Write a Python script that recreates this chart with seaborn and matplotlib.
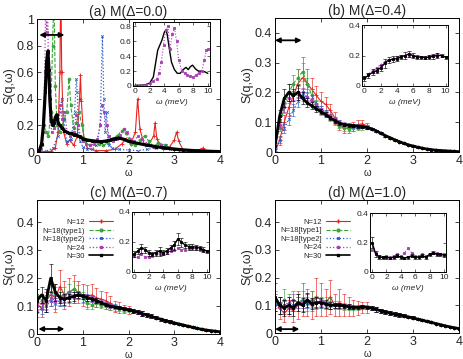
import numpy as np
import matplotlib
matplotlib.use("Agg")
import matplotlib.pyplot as plt
from matplotlib.lines import Line2D
import seaborn as sns

sns.set_theme(style="ticks")
plt.rcParams['font.family'] = ['Liberation Sans', 'DejaVu Sans']

# ---------------- data ----------------
# common frequency grid for panels (b)-(d)
omega = np.round(np.arange(0, 4.01, 0.1), 1)
ins_w = np.round(np.arange(0, 10.01, 0.5), 1)

# panel (a): Delta = 0.0, sharp peaks, own grids
a_n12_w = [0, 0.3, 0.4, 0.46, 0.5, 0.52, 0.54, 0.58, 0.65, 0.72, 0.8, 0.88, 0.93, 0.95, 0.97, 1.02, 1.1, 1.3, 1.5, 1.7,
           1.85, 1.95, 2.05, 2.15, 2.2, 2.25, 2.35, 2.45, 2.55, 2.58, 2.62, 2.75, 2.9, 3.0, 3.05, 3.1, 3.2, 3.5, 3.62, 3.7, 4.0]
a_n12 = [0, 0.005, 0.03, 0.15, 0.6, 1.3, 0.6, 0.15, 0.06, 0.09, 0.05, 0.12, 0.4, 0.58, 0.38, 0.1, 0.03, 0.01, 0.01, 0.02,
         0.06, 0.1, 0.06, 0.15, 0.4, 0.17, 0.05, 0.06, 0.12, 0.22, 0.1, 0.02, 0.04, 0.09, 0.15, 0.08, 0.01, 0.01, 0.03, 0.005, 0]
a_n18a_w = [0, 0.1, 0.15, 0.2, 0.25, 0.3, 0.34, 0.37, 0.4, 0.44, 0.5, 0.55, 0.6, 0.65, 0.7, 0.74, 0.8, 0.86, 0.92, 0.98,
            1.05, 1.15, 1.25, 1.35, 1.45, 1.55, 1.65, 1.75, 1.85, 1.9, 1.95, 2.05, 2.15, 2.25, 2.35, 2.45, 2.55, 2.65,
            2.8, 3.0, 3.3, 3.6, 4.0]
a_n18a = [0, 0.05, 0.2, 0.15, 0.12, 0.3, 0.8, 1.2, 0.5, 0.2, 0.15, 0.2, 0.25, 0.3, 0.55, 0.35, 0.18, 0.22, 0.3, 0.2,
          0.08, 0.05, 0.08, 0.06, 0.05, 0.07, 0.1, 0.12, 0.16, 0.17, 0.14, 0.06, 0.05, 0.09, 0.12, 0.08, 0.04, 0.07,
          0.05, 0.02, 0.01, 0.005, 0]
a_n18b_w = [0, 0.2, 0.35, 0.45, 0.5, 0.54, 0.58, 0.65, 0.75, 0.82, 0.86, 0.88, 0.9, 0.94, 1.0, 1.1, 1.2, 1.3, 1.38, 1.43,
            1.46, 1.49, 1.52, 1.55, 1.58, 1.65, 1.8, 2.0, 2.2, 2.4, 2.6, 2.75, 2.82, 2.9, 3.1, 3.5, 4.0]
a_n18b = [0, 0.005, 0.03, 0.12, 0.3, 0.4, 0.25, 0.08, 0.1, 0.3, 0.55, 0.45, 0.2, 0.08, 0.04, 0.02, 0.02, 0.05, 0.2, 0.87,
          0.4, 0.15, 0.3, 0.12, 0.05, 0.03, 0.02, 0.015, 0.01, 0.02, 0.03, 0.04, 0.05, 0.02, 0.01, 0.005, 0]
a_n24_w = [0, 0.08, 0.13, 0.17, 0.19, 0.21, 0.23, 0.25, 0.28, 0.32, 0.38, 0.45, 0.5, 0.55, 0.6, 0.66, 0.72, 0.8, 0.86, 0.9,
           0.95, 1.0, 1.08, 1.16, 1.24, 1.32, 1.38, 1.43, 1.47, 1.52, 1.58, 1.66, 1.74, 1.82, 1.9, 1.96, 2.04, 2.12,
           2.2, 2.3, 2.42, 2.55, 2.7, 2.85, 3.0, 3.3, 3.6, 4.0]
a_n24 = [0, 0.02, 0.15, 0.6, 1.2, 0.9, 1.2, 0.6, 0.3, 0.15, 0.18, 0.2, 0.35, 0.25, 0.3, 0.15, 0.12, 0.15, 0.28, 0.2,
         0.12, 0.08, 0.06, 0.05, 0.06, 0.1, 0.2, 0.35, 0.3, 0.2, 0.12, 0.08, 0.1, 0.13, 0.17, 0.15, 0.1, 0.08,
         0.12, 0.1, 0.06, 0.04, 0.05, 0.03, 0.02, 0.01, 0.005, 0]
a_n30_w = [0, 0.05, 0.1, 0.14, 0.18, 0.21, 0.24, 0.26, 0.28, 0.31, 0.34, 0.37, 0.40, 0.43, 0.46, 0.5, 0.55, 0.6, 0.65, 0.7,
           0.75, 0.8, 0.85, 0.9, 0.95, 1.0, 1.1, 1.2, 1.3, 1.4, 1.5, 1.6, 1.7, 1.8, 1.9, 2.0, 2.2, 2.4, 2.6, 2.8,
           3.0, 3.2, 3.4, 3.6, 3.8, 4.0]
a_n30 = [0, 0.01, 0.06, 0.2, 0.45, 0.68, 0.76, 0.62, 0.4, 0.24, 0.2, 0.22, 0.26, 0.28, 0.22, 0.2, 0.18, 0.16, 0.15, 0.14,
         0.14, 0.13, 0.13, 0.12, 0.115, 0.1, 0.09, 0.085, 0.08, 0.078, 0.082, 0.09, 0.1, 0.105, 0.095, 0.08, 0.065,
         0.052, 0.04, 0.03, 0.022, 0.016, 0.011, 0.008, 0.005, 0.003]

# panel (b): Delta = 0.4  (omega 0.0..2.0 per series, shared tail 2.1..4.0)
b_tail = [0.078, 0.071, 0.063, 0.055, 0.048, 0.041, 0.035, 0.029, 0.024, 0.02, 0.016, 0.013, 0.01, 0.008, 0.006,
          0.005, 0.004, 0.003, 0.002, 0.001]
b_err_tail = [0.004, 0.004, 0.004, 0.003, 0.003, 0.003, 0.003, 0.002, 0.002, 0.002, 0.002, 0.001, 0.001, 0.001, 0.001,
              0.001, 0.001, 0.001, 0.001, 0.001]
b_n12 = [0.00, 0.04, 0.10, 0.15, 0.19, 0.23, 0.25, 0.23, 0.21, 0.19, 0.17, 0.16, 0.14, 0.115, 0.09, 0.08, 0.08, 0.085,
         0.092, 0.095, 0.088] + b_tail
b_n18a = [0.02, 0.08, 0.15, 0.20, 0.23, 0.25, 0.27, 0.23, 0.19, 0.16, 0.14, 0.13, 0.115, 0.10, 0.088, 0.08, 0.078, 0.08,
          0.082, 0.083, 0.082] + b_tail
b_n18b = [0.01, 0.04, 0.08, 0.11, 0.14, 0.17, 0.19, 0.185, 0.175, 0.16, 0.145, 0.13, 0.12, 0.11, 0.10, 0.093, 0.09,
          0.088, 0.087, 0.086, 0.084] + b_tail
b_n24 = [0.02, 0.09, 0.15, 0.18, 0.19, 0.20, 0.20, 0.185, 0.17, 0.155, 0.14, 0.13, 0.12, 0.11, 0.10, 0.094, 0.09, 0.088,
         0.087, 0.086, 0.084] + b_tail
b_n30 = [0.02, 0.12, 0.18, 0.20, 0.19, 0.20, 0.18, 0.165, 0.155, 0.145, 0.135, 0.125, 0.115, 0.105, 0.097, 0.092, 0.09,
         0.088, 0.087, 0.085, 0.082] + b_tail
b_n12_err = [0.005, 0.015, 0.025, 0.03, 0.04, 0.05, 0.07, 0.05, 0.04, 0.03, 0.03, 0.025, 0.02, 0.02, 0.015, 0.015, 0.015,
             0.015, 0.015, 0.012, 0.01] + b_err_tail
b_n18a_err = [0.005, 0.01, 0.02, 0.03, 0.03, 0.03, 0.03, 0.02, 0.02, 0.015, 0.015, 0.01, 0.01, 0.01, 0.008, 0.008, 0.008,
              0.008, 0.008, 0.008, 0.006] + b_err_tail
b_n18b_err = [0.005, 0.01, 0.015, 0.02, 0.02, 0.02, 0.02, 0.015, 0.015, 0.012, 0.01, 0.01, 0.008, 0.008, 0.008, 0.006,
              0.006, 0.006, 0.006, 0.006, 0.006] + b_err_tail
b_n24_err = [0.005, 0.01, 0.015, 0.015, 0.015, 0.015, 0.015, 0.012, 0.01, 0.01, 0.008, 0.008, 0.008, 0.006, 0.006,
             0.006, 0.006, 0.005, 0.005, 0.005, 0.005] + b_err_tail
b_n30_err = [0.01, 0.02, 0.03, 0.03, 0.02, 0.025, 0.02, 0.015, 0.012, 0.01, 0.008, 0.008, 0.006, 0.006, 0.005, 0.005,
             0.005, 0.005, 0.005, 0.005, 0.004] + b_err_tail

# panel (c): Delta = 0.7
c_tail = [0.083, 0.078, 0.073, 0.068, 0.063, 0.058, 0.053, 0.048, 0.044, 0.04, 0.036, 0.032, 0.028, 0.024, 0.02,
          0.017, 0.014, 0.012, 0.01, 0.008]
c_err_tail = [0.008, 0.008, 0.008, 0.008, 0.007, 0.006, 0.006, 0.005, 0.005, 0.004, 0.004, 0.003, 0.003, 0.003, 0.002,
              0.002, 0.002, 0.002, 0.001, 0.001]
c_n12 = [0.11, 0.09, 0.12, 0.14, 0.13, 0.17, 0.14, 0.15, 0.16, 0.15, 0.14, 0.135, 0.14, 0.13, 0.125, 0.12, 0.11, 0.1,
         0.095, 0.09, 0.087] + c_tail
c_n18a = [0.14, 0.12, 0.11, 0.15, 0.14, 0.13, 0.14, 0.15, 0.16, 0.15, 0.13, 0.11, 0.105, 0.11, 0.105, 0.10, 0.097,
          0.094, 0.09, 0.088, 0.086] + c_tail
c_n18b = [0.08, 0.09, 0.10, 0.12, 0.11, 0.12, 0.12, 0.13, 0.13, 0.14, 0.13, 0.13, 0.125, 0.12, 0.115, 0.108, 0.102,
          0.098, 0.094, 0.09, 0.087] + c_tail
c_n24 = [0.10, 0.11, 0.10, 0.13, 0.12, 0.12, 0.13, 0.14, 0.14, 0.14, 0.135, 0.13, 0.125, 0.12, 0.113, 0.106, 0.10,
         0.097, 0.094, 0.09, 0.087] + c_tail
c_n30 = [0.12, 0.14, 0.12, 0.20, 0.15, 0.13, 0.125, 0.13, 0.135, 0.14, 0.135, 0.13, 0.125, 0.12, 0.112, 0.105, 0.10,
         0.097, 0.094, 0.09, 0.087] + c_tail
c_n12_err = [0.02, 0.03, 0.03, 0.04, 0.05, 0.06, 0.05, 0.05, 0.05, 0.04, 0.04, 0.04, 0.04, 0.035, 0.03, 0.03, 0.025,
             0.02, 0.02, 0.015, 0.015] + c_err_tail
c_n18a_err = [0.02, 0.02, 0.03, 0.03, 0.03, 0.03, 0.03, 0.03, 0.03, 0.025, 0.02, 0.02, 0.015, 0.015, 0.012, 0.01, 0.01,
              0.01, 0.008, 0.008, 0.008] + c_err_tail
c_n18b_err = [0.02, 0.02, 0.02, 0.02, 0.02, 0.02, 0.02, 0.02, 0.02, 0.015, 0.015, 0.012, 0.012, 0.01, 0.01, 0.008,
              0.008, 0.008, 0.006, 0.006, 0.006] + c_err_tail
c_n24_err = [0.015, 0.015, 0.015, 0.015, 0.015, 0.015, 0.015, 0.015, 0.012, 0.012, 0.01, 0.01, 0.01, 0.008, 0.008,
             0.008, 0.006, 0.006, 0.006, 0.005, 0.005] + c_err_tail
c_n30_err = [0.04, 0.03, 0.04, 0.05, 0.03, 0.02, 0.02, 0.015, 0.015, 0.012, 0.01, 0.01, 0.008, 0.008, 0.006, 0.006,
             0.005, 0.005, 0.005, 0.005, 0.005] + c_err_tail

# panel (d): Delta = 1.0
d_tail = [0.09, 0.085, 0.08, 0.076, 0.072, 0.068, 0.065, 0.062, 0.058, 0.055, 0.05, 0.046, 0.042, 0.038, 0.034,
          0.03, 0.026, 0.022, 0.019, 0.016]
d_err_tail = [0.008, 0.008, 0.008, 0.008, 0.007, 0.007, 0.006, 0.006, 0.005, 0.005, 0.004, 0.004, 0.004, 0.003, 0.003,
              0.003, 0.002, 0.002, 0.002, 0.002]
d_n12 = [0.12, 0.09, 0.07, 0.09, 0.08, 0.10, 0.12, 0.11, 0.10, 0.13, 0.12, 0.11, 0.13, 0.10, 0.11, 0.10, 0.095, 0.09,
         0.09, 0.092, 0.092] + d_tail
d_n18a = [0.11, 0.10, 0.12, 0.11, 0.12, 0.11, 0.12, 0.11, 0.12, 0.11, 0.11, 0.11, 0.105, 0.10, 0.10, 0.095, 0.093,
          0.092, 0.092, 0.093, 0.093] + d_tail
d_n18b = [0.10, 0.09, 0.10, 0.09, 0.10, 0.11, 0.10, 0.11, 0.10, 0.11, 0.105, 0.10, 0.10, 0.10, 0.098, 0.095, 0.093,
          0.093, 0.093, 0.094, 0.093] + d_tail
d_n24 = [0.12, 0.11, 0.10, 0.11, 0.12, 0.11, 0.11, 0.12, 0.11, 0.11, 0.11, 0.105, 0.105, 0.10, 0.10, 0.097, 0.095,
         0.093, 0.093, 0.095, 0.093] + d_tail
d_n30 = [0.13, 0.10, 0.09, 0.10, 0.09, 0.11, 0.10, 0.12, 0.105, 0.11, 0.11, 0.105, 0.10, 0.10, 0.10, 0.098, 0.095,
         0.093, 0.093, 0.095, 0.093] + d_tail
d_n12_err = [0.03, 0.04, 0.03, 0.03, 0.04, 0.05, 0.06, 0.05, 0.05, 0.07, 0.06, 0.05, 0.06, 0.04, 0.05, 0.04, 0.035,
             0.03, 0.025, 0.02, 0.02] + d_err_tail
d_n18a_err = [0.03, 0.03, 0.04, 0.03, 0.03, 0.03, 0.03, 0.03, 0.03, 0.025, 0.02, 0.02, 0.02, 0.015, 0.015, 0.012, 0.01,
              0.01, 0.01, 0.008, 0.008] + d_err_tail
d_n18b_err = [0.02, 0.02, 0.02, 0.02, 0.02, 0.02, 0.02, 0.02, 0.02, 0.015, 0.015, 0.012, 0.012, 0.01, 0.01, 0.008,
              0.008, 0.008, 0.006, 0.006, 0.006] + d_err_tail
d_n24_err = [0.02, 0.02, 0.02, 0.02, 0.02, 0.02, 0.02, 0.02, 0.015, 0.015, 0.012, 0.012, 0.01, 0.01, 0.008, 0.008,
             0.008, 0.006, 0.006, 0.006, 0.005] + d_err_tail
d_n30_err = [0.05, 0.03, 0.03, 0.03, 0.03, 0.03, 0.025, 0.025, 0.02, 0.02, 0.015, 0.015, 0.012, 0.01, 0.01, 0.008,
             0.008, 0.006, 0.006, 0.006, 0.005] + d_err_tail

# insets (omega in meV)
ins_a_w30 = [0, 0.5, 1, 1.5, 2, 2.5, 2.8, 3.1, 3.4, 3.7, 4.0, 4.2, 4.4, 4.7, 5.0, 5.4, 5.8, 6.2, 6.6, 7.0,
             7.3, 7.6, 7.9, 8.3, 8.7, 9.2, 9.6, 10]
ins_a_30 = [0.01, 0.01, 0.015, 0.02, 0.04, 0.12, 0.3, 0.48, 0.55, 0.62, 0.72, 0.75, 0.7, 0.5, 0.32, 0.22, 0.17, 0.17,
            0.22, 0.25, 0.22, 0.26, 0.28, 0.23, 0.2, 0.2, 0.19, 0.17]
ins_a_w24 = [0, 0.5, 1, 1.5, 2, 2.5, 3.0, 3.3, 3.6, 3.9, 4.2, 4.5, 4.8, 5.1, 5.4, 5.7, 6.0, 6.4, 6.8, 7.2,
             7.6, 8.0, 8.4, 8.8, 9.2, 9.5, 9.8, 10]
ins_a_24 = [0, 0.005, 0.01, 0.02, 0.04, 0.07, 0.1, 0.18, 0.32, 0.55, 0.75, 0.8, 0.5, 0.7, 0.78, 0.6, 0.35, 0.2, 0.17,
            0.15, 0.13, 0.12, 0.15, 0.18, 0.2, 0.35, 0.48, 0.5]
ins_b_30 = [0.05, 0.07, 0.09, 0.1, 0.12, 0.15, 0.17, 0.175, 0.18, 0.19, 0.2, 0.21, 0.2, 0.19, 0.19, 0.185, 0.19, 0.195,
            0.2, 0.2, 0.19]
ins_b_30_err = [0.015, 0.015, 0.02, 0.015, 0.02, 0.03, 0.02, 0.02, 0.015, 0.015, 0.02, 0.02, 0.015, 0.015, 0.01, 0.01,
                0.015, 0.015, 0.015, 0.01, 0.01]
ins_b_24 = [0.06, 0.08, 0.1, 0.12, 0.14, 0.16, 0.17, 0.18, 0.19, 0.2, 0.2, 0.2, 0.2, 0.19, 0.19, 0.19, 0.2, 0.2, 0.21,
            0.2, 0.19]
ins_c_30 = [0.12, 0.14, 0.16, 0.15, 0.13, 0.12, 0.13, 0.14, 0.13, 0.14, 0.16, 0.18, 0.22, 0.2, 0.18, 0.17, 0.17, 0.165,
            0.16, 0.15, 0.14]
ins_c_30_err = [0.02, 0.02, 0.03, 0.02, 0.02, 0.015, 0.02, 0.03, 0.015, 0.02, 0.02, 0.03, 0.04, 0.03, 0.02, 0.02, 0.02,
                0.015, 0.015, 0.015, 0.01]
ins_c_24 = [0.11, 0.1, 0.12, 0.1, 0.1, 0.11, 0.12, 0.12, 0.12, 0.13, 0.14, 0.15, 0.16, 0.15, 0.15, 0.16, 0.16, 0.155,
            0.15, 0.14, 0.14]
ins_d_30 = [0.2, 0.12, 0.1, 0.1, 0.1, 0.095, 0.1, 0.11, 0.1, 0.095, 0.1, 0.11, 0.1, 0.1, 0.11, 0.1, 0.12, 0.13, 0.12,
            0.12, 0.115]
ins_d_30_err = [0.04, 0.02, 0.015, 0.01, 0.01, 0.01, 0.01, 0.01, 0.01, 0.01, 0.01, 0.01, 0.01, 0.01, 0.01, 0.01, 0.01,
                0.01, 0.01, 0.01, 0.01]
ins_d_24 = [0.15, 0.13, 0.11, 0.1, 0.11, 0.1, 0.11, 0.12, 0.11, 0.13, 0.16, 0.13, 0.11, 0.11, 0.12, 0.11, 0.12, 0.13,
            0.13, 0.12, 0.12]

titles = ['(a) M(Δ=0.0)', '(b) M(Δ=0.4)', '(c) M(Δ=0.7)', '(d) M(Δ=1.0)']
labels_c = ['N=12', 'N=18(type1)', 'N=18(type2)', 'N=24', 'N=30']
labels_d = ['N=12', 'N=18[type1]', 'N=18[type2]', 'N=24', 'N=30']
arrows = [(0.05, 0.6, 0.88), (0.0, 0.58, 0.375), (0.03, 0.6, 0.018), (0.0, 0.53, 0.014)]

# styles: color, linestyle, marker, markersize, linewidth
styles = [('#e8231f', '-', '+', 3.0, 0.8),
          ('#3aa537', '--', 'o', 2.0, 0.8),
          ('#2d5fd0', ':', 'x', 1.8, 0.9),
          ('#a83db5', ':', 's', 1.6, 0.9),
          ('black', '-', 's', 1.6, 2.0)]

W, H = 463, 359


def rect(l, t, r, b):
    return [l / W, 1 - b / H, (r - l) / W, (b - t) / H]


def draw(ax, w, s, err, st, lw=None):
    color, ls, mk, ms, lw0 = st
    sns.lineplot(x=w, y=s, ax=ax, color=color, linestyle=ls, marker=mk, markersize=ms,
                 linewidth=lw if lw else lw0, markeredgewidth=0.6, markeredgecolor=color,
                 estimator=None, sort=False, legend=False)
    if err is not None:
        ax.errorbar(w, s, yerr=err, fmt='none', ecolor=color, elinewidth=0.6, capsize=1.5,
                    capthick=0.6, alpha=0.75)


def style_main(ax, ylim, yticks, title, arrow):
    ax.set_xlim(0, 4)
    ax.set_ylim(*ylim)
    ax.set_xticks([0, 1, 2, 3, 4])
    ax.set_yticks(yticks)
    ax.yaxis.set_major_formatter(matplotlib.ticker.FuncFormatter(lambda v, p: f'{v:g}'))
    ax.tick_params(direction='in', length=3, width=0.6, top=True, right=True, labelsize=9, pad=2)
    for sp in ax.spines.values():
        sp.set_linewidth(0.7)
        sp.set_color('black')
    ax.set_xlabel('ω', fontsize=7, labelpad=1)
    ax.set_ylabel('S(q,ω)', fontsize=9, labelpad=1)
    ax.set_title(title, fontsize=10, pad=2)
    x0, x1, ya = arrow
    ax.annotate('', xy=(x0, ya), xytext=(x1, ya),
                arrowprops=dict(arrowstyle='<|-|>', color='black', lw=1.3, mutation_scale=7,
                                shrinkA=0, shrinkB=0))


def style_inset(ax, ylim, yticks):
    ax.set_xlim(-0.3, 10.3)
    ax.set_ylim(*ylim)
    ax.set_xticks([0, 2, 4, 6, 8, 10])
    ax.set_yticks(yticks)
    ax.yaxis.set_major_formatter(matplotlib.ticker.FuncFormatter(lambda v, p: f'{v:g}'))
    ax.tick_params(direction='in', length=2, width=0.5, top=True, right=True, labelsize=6, pad=1.5)
    for sp in ax.spines.values():
        sp.set_linewidth(0.7)
        sp.set_color('black')
    ax.set_xlabel('ω (meV)', fontsize=6, style='italic', labelpad=3)
    ax.set_ylabel('')


fig = plt.figure(figsize=(W / 100, H / 100), dpi=100)

# ---- panel (a)
ax = fig.add_axes(rect(37, 19, 220, 152))
a_sets = [(a_n12_w, a_n12), (a_n18a_w, a_n18a), (a_n18b_w, a_n18b), (a_n24_w, a_n24), (a_n30_w, a_n30)]
for (w, s), st in zip(a_sets, styles):
    draw(ax, w, s, None, st, lw=2.3 if st[0] == 'black' else None)
style_main(ax, (0, 1), [0, 0.2, 0.4, 0.6, 0.8, 1], titles[0], arrows[0])
ins = fig.add_axes(rect(133, 22, 210, 86))
sns.lineplot(x=ins_a_w30, y=ins_a_30, ax=ins, color='black', linewidth=1.0, estimator=None, sort=False)
draw(ins, ins_a_w24, ins_a_24, None, ('#a83db5', ':', 's', 1.8, 0.8))
style_inset(ins, (0, 0.86), [0, 0.2, 0.4, 0.6, 0.8])

# ---- panels (b)-(d)
panels = [
    (rect(275, 18, 459, 152), [b_n12, b_n18a, b_n18b, b_n24, b_n30],
     [b_n12_err, b_n18a_err, b_n18b_err, b_n24_err, b_n30_err], (0, 0.45),
     rect(362, 25, 448, 86), ins_b_30, ins_b_30_err, ins_b_24, None),
    (rect(37, 200, 220, 334), [c_n12, c_n18a, c_n18b, c_n24, c_n30],
     [c_n12_err, c_n18a_err, c_n18b_err, c_n24_err, c_n30_err], (0, 0.48),
     rect(132, 212, 209, 272), ins_c_30, ins_c_30_err, ins_c_24, labels_c),
    (rect(275, 200, 459, 333), [d_n12, d_n18a, d_n18b, d_n24, d_n30],
     [d_n12_err, d_n18a_err, d_n18b_err, d_n24_err, d_n30_err], (0, 0.48),
     rect(370, 213, 446, 272), ins_d_30, ins_d_30_err, ins_d_24, labels_d),
]
for k, (r, vals, errs, ylim, ri, i30, i30e, i24, labs) in enumerate(panels, start=1):
    ax = fig.add_axes(r)
    for s, e, st in zip(vals, errs, styles):
        draw(ax, omega, s, e, st)
    style_main(ax, ylim, [0, 0.1, 0.2, 0.3, 0.4], titles[k], arrows[k])
    if labs:
        handles = [Line2D([], [], color=st[0], linestyle=st[1], marker=st[2], markersize=st[3],
                          linewidth=min(st[4], 1.2)) for st in styles]
        ax.legend(handles, labs, loc='upper left', bbox_to_anchor=(0.0, 0.9), frameon=False,
                  markerfirst=False, fontsize=5.5, handlelength=3.2, labelspacing=0.15,
                  handletextpad=0.5, borderpad=0.2)
    ins = fig.add_axes(ri)
    draw(ins, ins_w, i24, None, ('#a83db5', ':', 's', 1.5, 0.8))
    draw(ins, ins_w, i30, i30e, ('black', '-', 's', 2.0, 1.0))
    style_inset(ins, (0, 0.4), [0, 0.2, 0.4])

fig.savefig('out.png', dpi=100)
